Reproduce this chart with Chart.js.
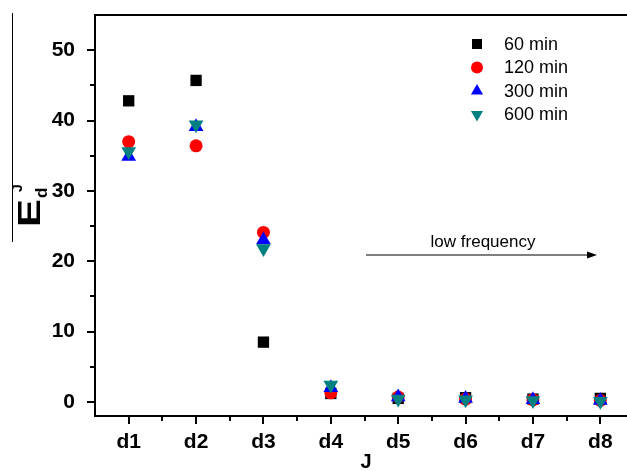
<!DOCTYPE html>
<html>
<head>
<meta charset="utf-8">
<script src="https://cdn.jsdelivr.net/npm/chart.js@4/dist/chart.umd.min.js"></script>
<style>
  html, body { margin: 0; padding: 0; background: #fff; overflow: hidden; }
  canvas { display: block; }
</style>
</head>
<body>
<canvas id="myChart" width="634" height="471"></canvas>
<script>
const categories = ['d1', 'd2', 'd3', 'd4', 'd5', 'd6', 'd7', 'd8'];
const min60 = [42.8, 45.7, 8.5, 1.2, 0.5, 0.6, 0.4, 0.5];
const min120 = [37.0, 36.4, 24.1, 1.3, 0.7, 0.4, 0.3, 0.2];
const min300 = [34.9, 39.1, 23.0, 2.0, 0.7, 0.5, 0.3, 0.2];
const min600 = [35.6, 39.4, 21.8, 2.4, 0.4, 0.3, 0.2, 0.1];
const seriesNames = ['60 min', '120 min', '300 min', '600 min'];
const yTicks = [0, 10, 20, 30, 40, 50];
const yMinor = [5, 15, 25, 35, 45];

const FONT = "'Liberation Sans', Arial, sans-serif";

function toPoints(values) {
    return values.map((v, i) => ({ x: i + 1, y: v }));
}

// little marker painter for the legend
function marker(ctx, style, x, y, r, color) {
    ctx.save();
    ctx.fillStyle = color;
    ctx.beginPath();
    if (style === 'rect') {
        ctx.rect(x - r, y - r, 2 * r, 2 * r);
    } else if (style === 'circle') {
        ctx.arc(x, y, r, 0, Math.PI * 2);
    } else if (style === 'up') {
        ctx.moveTo(x, y - r);
        ctx.lineTo(x + r * 0.866, y + r / 2);
        ctx.lineTo(x - r * 0.866, y + r / 2);
    } else {
        ctx.moveTo(x, y + r);
        ctx.lineTo(x + r * 0.866, y - r / 2);
        ctx.lineTo(x - r * 0.866, y - r / 2);
    }
    ctx.closePath();
    ctx.fill();
    ctx.restore();
}

const decor = {
    id: 'decor',
    beforeDatasetsDraw(chart) {
        const ctx = chart.ctx;
        const a = chart.chartArea;
        const xs = chart.scales.x, ys = chart.scales.y;
        ctx.save();
        ctx.strokeStyle = '#000';
        ctx.lineWidth = 2;
        ctx.beginPath();
        ctx.moveTo(a.left, a.top);
        ctx.lineTo(a.left, a.bottom);
        ctx.moveTo(a.left - 1, a.bottom);
        ctx.lineTo(a.right, a.bottom);
        ctx.moveTo(a.left - 1, a.top);
        ctx.lineTo(a.right, a.top);
        // y ticks
        yTicks.forEach(v => {
            const p = Math.round(ys.getPixelForValue(v));
            ctx.moveTo(a.left - 8, p);
            ctx.lineTo(a.left, p);
        });
        yMinor.forEach(v => {
            const p = Math.round(ys.getPixelForValue(v));
            ctx.moveTo(a.left - 5, p);
            ctx.lineTo(a.left, p);
        });
        // x ticks
        categories.forEach((c, i) => {
            const p = Math.round(xs.getPixelForValue(i + 1));
            ctx.moveTo(p, a.bottom);
            ctx.lineTo(p, a.bottom + 8);
            const q = Math.round(xs.getPixelForValue(i + 1.5));
            ctx.moveTo(q, a.bottom);
            ctx.lineTo(q, a.bottom + 5);
        });
        ctx.stroke();
        ctx.restore();
    },
    afterDraw(chart) {
        const ctx = chart.ctx;
        ctx.save();

        // legend
        const styles = ['rect', 'circle', 'up', 'down'];
        const sizes = [5, 6, 7, 7];
        chart.data.datasets.forEach((ds, i) => {
            const y = 44 + i * 23.5;
            marker(ctx, styles[i], 477, y, sizes[i], ds.backgroundColor);
            ctx.fillStyle = '#000';
            ctx.font = '18px ' + FONT;
            ctx.textBaseline = 'middle';
            ctx.textAlign = 'left';
            ctx.fillText(seriesNames[i], 504, y + 1);
        });

        // arrow + note
        ctx.strokeStyle = '#000';
        ctx.lineWidth = 1.2;
        ctx.beginPath();
        ctx.moveTo(366, 255);
        ctx.lineTo(590, 255);
        ctx.stroke();
        ctx.fillStyle = '#000';
        ctx.beginPath();
        ctx.moveTo(597, 255);
        ctx.lineTo(587, 251.5);
        ctx.lineTo(587, 258.5);
        ctx.closePath();
        ctx.fill();
        ctx.font = '17px ' + FONT;
        ctx.textAlign = 'center';
        ctx.textBaseline = 'alphabetic';
        ctx.fillText('low frequency', 483, 247);

        // x title
        ctx.font = 'bold 20px ' + FONT;
        ctx.textAlign = 'center';
        ctx.textBaseline = 'middle';
        ctx.fillText('J', 366, 462);

        // y title: E with sub d and sup J, rotated
        ctx.beginPath();
        ctx.lineWidth = 1;
        ctx.moveTo(12.5, 13);
        ctx.lineTo(12.5, 242);
        ctx.stroke();
        ctx.translate(40, 227);
        ctx.rotate(-Math.PI / 2);
        ctx.textAlign = 'left';
        ctx.textBaseline = 'alphabetic';
        ctx.save();
        ctx.scale(1.35, 1);
        ctx.font = 'bold 31px ' + FONT;
        ctx.fillText('E', 0, 0);
        ctx.restore();
        ctx.font = 'bold 17px ' + FONT;
        ctx.fillText('d', 29, 7);
        ctx.font = 'bold 14px ' + FONT;
        ctx.fillText('J', 35, -18);

        ctx.restore();
    }
};

const ctx = document.getElementById('myChart').getContext('2d');
new Chart(ctx, {
    type: 'scatter',
    data: {
        datasets: [
            { label: seriesNames[0], data: toPoints(min60), backgroundColor: '#000000', borderWidth: 0,
              pointStyle: 'rect', pointRadius: 8, order: 4 },
            { label: seriesNames[1], data: toPoints(min120), backgroundColor: '#ff0000', borderWidth: 0,
              pointStyle: 'circle', pointRadius: 6.5, order: 3 },
            { label: seriesNames[2], data: toPoints(min300), backgroundColor: '#0000ff', borderWidth: 0,
              pointStyle: 'triangle', pointRadius: 8.5, order: 2 },
            { label: seriesNames[3], data: toPoints(min600), backgroundColor: '#008080', borderWidth: 0,
              pointStyle: 'triangle', rotation: 180, pointRadius: 8.5, order: 1 }
        ]
    },
    options: {
        responsive: false,
        animation: false,
        layout: { autoPadding: false, padding: { top: 15, right: 0, left: 0, bottom: 0 } },
        plugins: { legend: { display: false }, tooltip: { enabled: false } },
        scales: {
            x: {
                type: 'linear',
                min: 0.5,
                max: 8.5,
                grid: { display: false },
                border: { display: false },
                afterBuildTicks: scale => { scale.ticks = categories.map((c, i) => ({ value: i + 1 })); },
                afterFit: scale => {
                    scale.height = 55;
                    scale.paddingLeft = 0;
                    scale.paddingRight = 0;
                },
                ticks: {
                    color: '#000',
                    padding: 6,
                    maxRotation: 0,
                    font: { family: FONT, size: 21, weight: 'bold' },
                    callback: v => categories[v - 1]
                }
            },
            y: {
                min: -2,
                max: 55,
                grid: { display: false },
                border: { display: false },
                afterBuildTicks: scale => { scale.ticks = yTicks.map(v => ({ value: v })); },
                afterFit: scale => {
                    scale.width = 95;
                    scale.paddingTop = 0;
                    scale.paddingBottom = 0;
                },
                ticks: {
                    color: '#000',
                    padding: 12,
                    font: { family: FONT, size: 21, weight: 'bold' }
                }
            }
        }
    },
    plugins: [decor]
});
</script>
</body>
</html>
